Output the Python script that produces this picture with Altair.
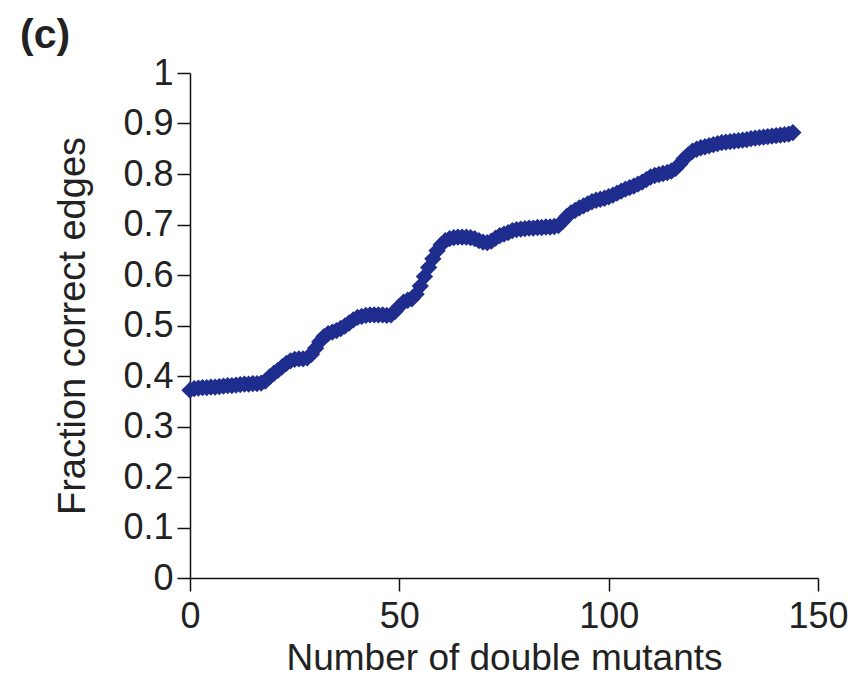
import altair as alt
import pandas as pd

x_vals = list(range(145))
fraction = [
    0.372, 0.375, 0.376, 0.377, 0.377, 0.378, 0.378, 0.379, 0.380, 0.381,
    0.381, 0.382, 0.383, 0.384, 0.384, 0.385, 0.385, 0.386, 0.390, 0.398,
    0.405, 0.411, 0.418, 0.425, 0.430, 0.433, 0.434, 0.434, 0.436, 0.443,
    0.455, 0.468, 0.478, 0.484, 0.487, 0.490, 0.494, 0.499, 0.505, 0.511,
    0.516, 0.518, 0.520, 0.521, 0.521, 0.521, 0.521, 0.520, 0.521, 0.528,
    0.538, 0.546, 0.550, 0.553, 0.562, 0.578, 0.597, 0.615, 0.632, 0.648,
    0.660, 0.668, 0.672, 0.674, 0.675, 0.675, 0.675, 0.674, 0.672, 0.668,
    0.665, 0.664, 0.667, 0.673, 0.678, 0.681, 0.684, 0.688, 0.690, 0.691,
    0.692, 0.693, 0.693, 0.694, 0.694, 0.695, 0.695, 0.696, 0.698, 0.706,
    0.716, 0.723, 0.728, 0.733, 0.737, 0.741, 0.745, 0.748, 0.750, 0.752,
    0.755, 0.758, 0.762, 0.766, 0.770, 0.773, 0.776, 0.780, 0.784, 0.789,
    0.794, 0.797, 0.799, 0.801, 0.803, 0.806, 0.811, 0.820, 0.830, 0.838,
    0.845, 0.849, 0.852, 0.854, 0.856, 0.858, 0.860, 0.862, 0.863, 0.864,
    0.865, 0.866, 0.867, 0.868, 0.870, 0.871, 0.872, 0.873, 0.874, 0.875,
    0.876, 0.877, 0.878, 0.879, 0.882,
]
x_ticks = [0, 50, 100, 150]
y_ticks = [0, 0.1, 0.2, 0.3, 0.4, 0.5, 0.6, 0.7, 0.8, 0.9, 1]
panel_label = "(c)"

df = pd.DataFrame({"n": x_vals, "frac": fraction})

points = alt.Chart(df).mark_point(
    shape="diamond", filled=True, size=300, color="#1f2d8f", opacity=1
).encode(
    x=alt.X("n:Q", scale=alt.Scale(domain=[0, 150], nice=False),
            axis=alt.Axis(values=x_ticks, title="Number of double mutants",
                          labelFlush=False, labelPadding=8, titlePadding=6,
                          titleFontSize=37)),
    y=alt.Y("frac:Q", scale=alt.Scale(domain=[0, 1], nice=False),
            axis=alt.Axis(values=y_ticks, format="~g", title="Fraction correct edges",
                          labelPadding=4, titlePadding=30, titleFontSize=38)),
)

label = alt.Chart(pd.DataFrame({"t": [panel_label]})).mark_text(
    align="left", baseline="top", fontSize=41, fontWeight="bold",
    font="Liberation Sans", color="#222222"
).encode(text="t:N", x=alt.value(-170), y=alt.value(-57))

chart = alt.layer(points, label).properties(
    width=628, height=505,
    autosize=alt.AutoSizeParams(type="none"),
    padding={"left": 190, "top": 73, "right": 46, "bottom": 106},
).configure_view(stroke=None).configure_axis(
    grid=False, domainColor="#111111", tickColor="#111111", tickSize=13,
    domainWidth=1.5, tickWidth=1.5,
    labelFont="Liberation Sans", titleFont="Liberation Sans",
    labelFontSize=36, labelColor="#222222", titleColor="#222222",
    titleFontWeight="normal",
)

chart.save("out.html", embed_options={"renderer": "svg", "actions": False})
